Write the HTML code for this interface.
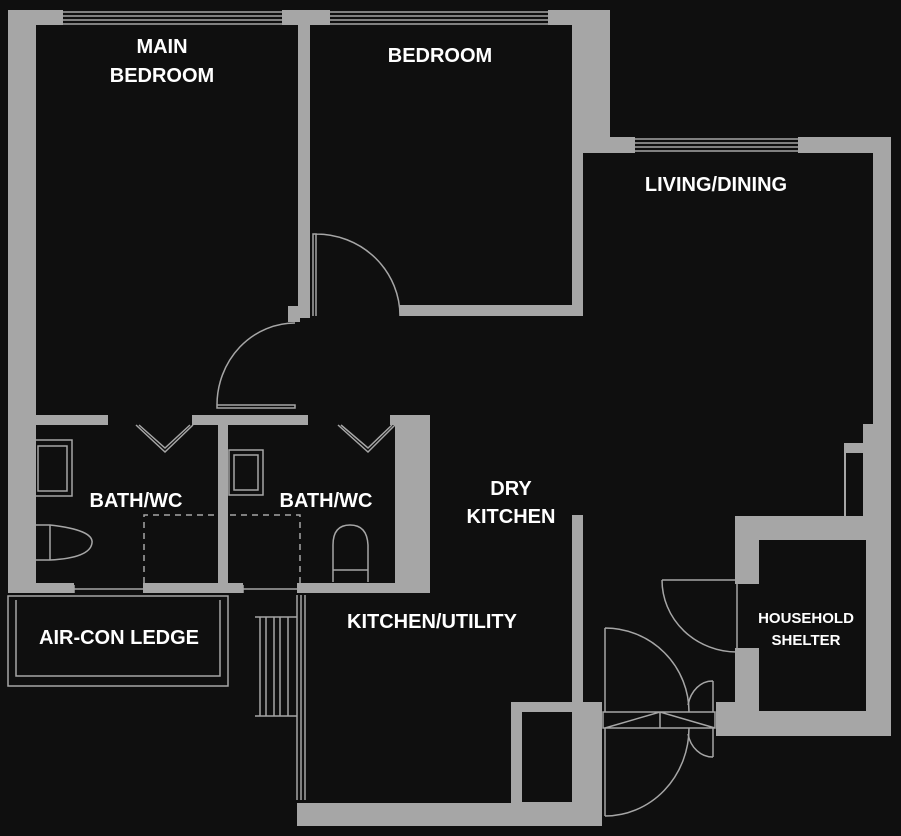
<!DOCTYPE html><html><head><style>html,body{margin:0;padding:0;background:#0f0f0f}svg{display:block}text{font-family:"Liberation Sans",sans-serif;font-weight:bold;fill:#fff;text-anchor:middle}</style></head><body>
<svg width="901" height="836" viewBox="0 0 901 836" xmlns="http://www.w3.org/2000/svg">
<rect width="901" height="836" fill="#0f0f0f"/>
<g fill="#a6a6a6">
<rect x="8" y="10" width="28" height="583"/>
<rect x="8" y="10" width="55" height="15"/>
<rect x="282" y="10" width="48" height="15"/>
<rect x="298" y="25" width="12" height="293"/>
<rect x="288" y="306" width="12" height="16"/>
<rect x="548" y="10" width="62" height="15"/>
<rect x="572" y="10" width="38" height="127"/>
<rect x="572" y="137" width="63" height="16"/>
<rect x="572" y="153" width="11" height="163"/>
<rect x="400" y="305" width="183" height="11"/>
<rect x="798" y="137" width="93" height="16"/>
<rect x="873" y="137" width="18" height="599"/>
<rect x="863" y="424" width="28" height="96"/>
<rect x="844" y="443" width="20" height="10"/>
<rect x="844" y="453" width="2" height="63"/>
<rect x="36" y="415" width="72" height="10"/>
<rect x="192" y="415" width="116" height="10"/>
<rect x="390" y="415" width="40" height="10"/>
<rect x="218" y="425" width="10" height="158"/>
<rect x="395" y="415" width="35" height="178"/>
<rect x="8" y="583" width="66" height="10"/>
<rect x="143" y="583" width="100" height="10"/>
<rect x="297" y="583" width="133" height="10"/>
<rect x="572" y="515" width="11" height="190"/>
<rect x="511" y="702" width="91" height="124"/>
<rect x="297" y="803" width="305" height="23"/>
<path d="M735 516H891V736H716V702H735V648H759V711H866V540H759V584H735Z"/>
</g>
<rect x="522" y="712" width="50" height="90" fill="#0f0f0f"/>
<g fill="none" stroke="#a6a6a6" stroke-width="1.5">
<path d="M63 12H282M63 16H282M63 20H282M63 24H282M330 12H548M330 16H548M330 20H548M330 24H548M635 139H798M635 143H798M635 147H798M635 151H798"/>
<path d="M74 585V593M74 589H143M243 585V593M243 589H297"/>
<path d="M313 316V234H316V316M316 234A84 82 0 0 1 400 316"/>
<path d="M217 405H295V408H217ZM217 405A78 82 0 0 1 295 323"/>
<path d="M136 425L165 452L193 425M139 425L165 448L190 425M338 425L368 452L395 425M341 425L368 448L392 425"/>
<path d="M33 440H72V496H33ZM38 446H67V491H38Z"/>
<path d="M229 450H263V495H229ZM234 455H258V490H234Z"/>
<path d="M34 525H50Q94 530 92 543Q90 558 50 560H34ZM50 525V560"/>
<path d="M333 582V545Q333 525 350 525Q367 525 368 545V582M333 570H368"/>
<path d="M8 596H228V686H8ZM16 600V676H220V600"/>
<path d="M297 595V800M301 595V800M305 595V800"/>
<path d="M255 617H297M255 716H297M260 617V716M266 617V716M274 617V716M280 617V716M288 617V716"/>
<path d="M662 580H737V652M662 580A75 72 0 0 0 737 652"/>
<path d="M603 712H715V728H603ZM605 728L660 712L715 728M660 712V728M605 712V628M605 628A84 84 0 0 1 689 712M605 728V816M605 816A84 88 0 0 0 689 728"/>
<path d="M713 712V681M713 681A25 31 0 0 0 688 705M713 728V757M713 757A25 29 0 0 1 688 734"/>
</g>
<path d="M144 583V515H300V583" fill="none" stroke="#a6a6a6" stroke-width="1.5" stroke-dasharray="6 5"/>
<g font-size="20">
<text x="162" y="53">MAIN</text>
<text x="162" y="82">BEDROOM</text>
<text x="440" y="62">BEDROOM</text>
<text x="716" y="191">LIVING/DINING</text>
<text x="511" y="495">DRY</text>
<text x="511" y="523">KITCHEN</text>
<text x="136" y="507">BATH/WC</text>
<text x="326" y="507">BATH/WC</text>
<text x="432" y="628">KITCHEN/UTILITY</text>
<text x="119" y="644">AIR-CON LEDGE</text>
</g>
<g font-size="15">
<text x="806" y="623">HOUSEHOLD</text>
<text x="806" y="645">SHELTER</text>
</g>
</svg></body></html>
